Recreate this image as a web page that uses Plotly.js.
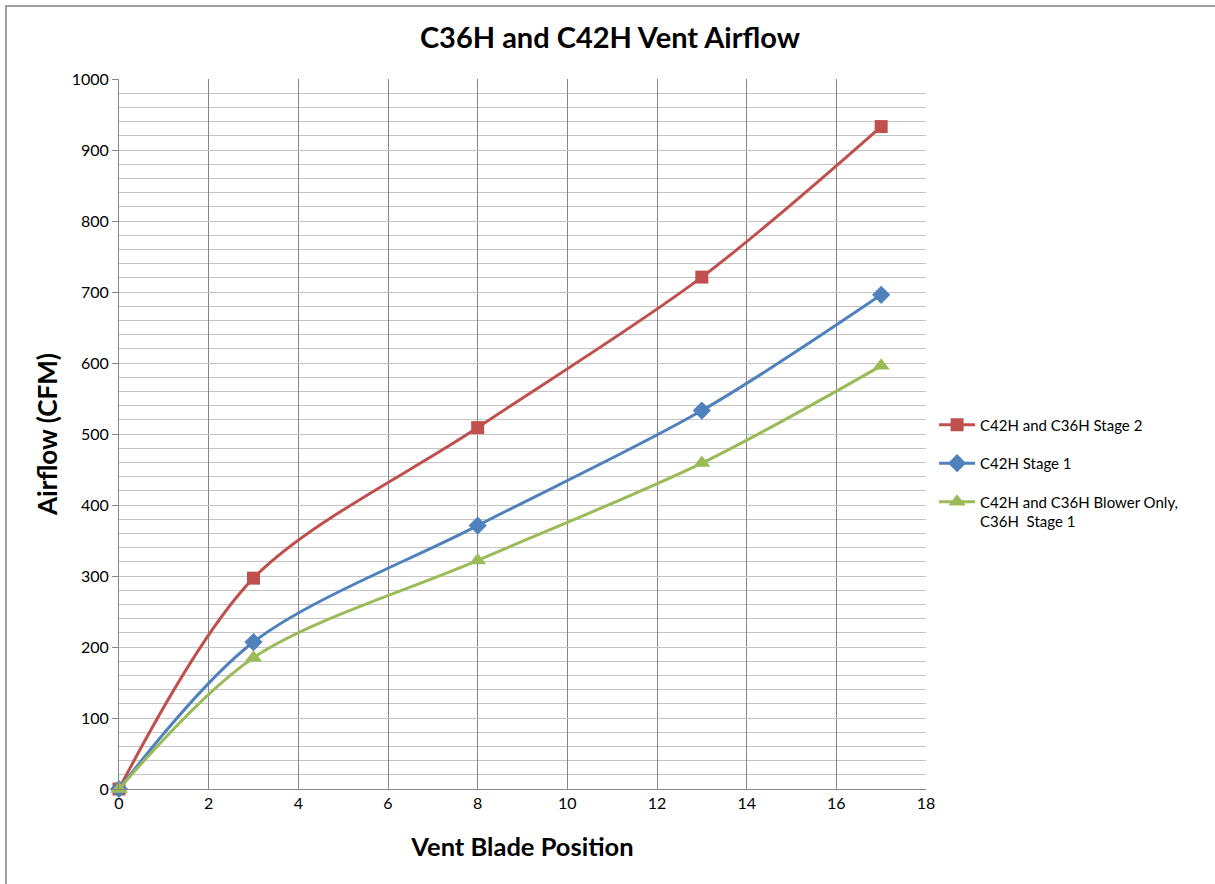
<!DOCTYPE html>
<html>
<head>
<meta charset="utf-8">
<script src="https://cdn.plot.ly/plotly-3.0.1.min.js"></script>
<style>
html,body{margin:0;padding:0;background:#fff;}
#chart{width:1215px;height:884px;}
#frame{position:absolute;left:5px;top:5px;width:1220px;height:900px;border-top:2px solid #a0a0a0;border-left:2px solid #a0a0a0;pointer-events:none;}
</style>
</head>
<body>
<div id="chart"></div>
<div id="frame"></div>
<script>
const ventPosition = [0, 3, 8, 13, 17];
const stage2 = [0, 297, 509, 721, 933];
const c42hStage1 = [0, 207, 371, 533, 696];
const blowerOnly = [0, 185, 322, 459, 596];
const seriesNames = [
  "C42H and C36H Stage 2",
  "C42H Stage 1",
  "C42H and C36H Blower Only,<br>C36H  Stage 1"
];
const colors = ["#C0504D", "#4F81BD", "#9BBB59"];
const symbols = ["square", "diamond", "triangle-up"];
const values = [stage2, c42hStage1, blowerOnly];
const markerSizes = [13, 14, 15];

const traces = values.map((v, i) => ({
  x: ventPosition,
  y: v,
  name: seriesNames[i],
  legendgroup: "g" + i,
  type: "scatter",
  mode: "lines+markers",
  cliponaxis: false,
  line: {color: colors[i], width: 3, shape: "spline", smoothing: 0.9},
  marker: {symbol: symbols[i], color: colors[i], size: markerSizes[i]}
}));

const font = "Lato, 'Open Sans', sans-serif";
const layout = {
  width: 1215, height: 884,
  margin: {l: 119, r: 289, t: 79, b: 95},
  paper_bgcolor: "#fff", plot_bgcolor: "#fff",
  font: {family: font, color: "#000", size: 15},
  title: {text: "<b>C36H and C42H Vent Airflow</b>", x: 0.502, xref: "container", xanchor: "center",
          y: 0.957, yanchor: "middle",
          font: {family: font, size: 29, color: "#000"}},
  showlegend: true,
  legend: {x: 1.01, xanchor: "left", y: 0.536, yanchor: "top", font: {family: font, size: 15},
           tracegroupgap: 16, traceorder: "grouped", valign: "top", itemwidth: 36,
           bgcolor: "rgba(0,0,0,0)"},
  xaxis: {
    range: [0, 18], dtick: 2, tick0: 0,
    showgrid: true, gridcolor: "#868686", gridwidth: 1,
    showline: true, linecolor: "#868686", linewidth: 1, mirror: false,
    ticks: "", zeroline: false,
    tickfont: {family: font, size: 16},
    title: {text: "<b>Vent Blade Position</b>", font: {family: font, size: 25.5}, standoff: 26}
  },
  yaxis: {
    range: [0, 1000], dtick: 100, tick0: 0,
    showgrid: true, gridcolor: "#c4c4c4", gridwidth: 1,
    minor: {dtick: 20, showgrid: true, gridcolor: "#c4c4c4", gridwidth: 1},
    showline: true, linecolor: "#868686", linewidth: 1,
    ticks: "outside", ticklen: 6, tickcolor: "#868686", zeroline: false,
    tickfont: {family: font, size: 16},
    title: {text: "<b>Airflow (CFM)</b>", font: {family: font, size: 26}, standoff: 6}
  }
};

Plotly.newPlot("chart", traces, layout, {displayModeBar: false, staticPlot: true});
</script>
</body>
</html>
